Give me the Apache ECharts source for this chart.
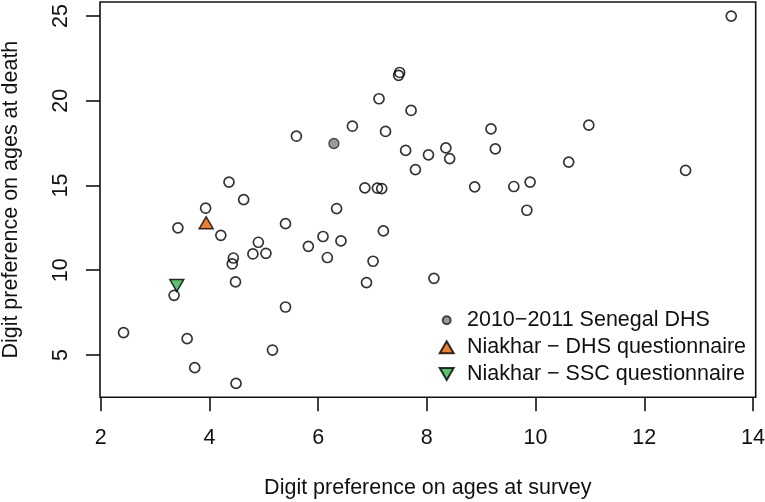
<!DOCTYPE html>
<html>
<head>
<meta charset="utf-8">
<script src="https://cdn.jsdelivr.net/npm/echarts@6/dist/echarts.min.js"></script>
<style>
html,body{margin:0;padding:0;background:#fff;}
#chart{width:765px;height:502px;}
</style>
</head>
<body>
<div id="chart"></div>
<script>
// Other countries (open circles)
const otherX = [5.60, 4.36, 4.63, 3.93, 3.42, 5.40, 4.21, 4.90, 5.82, 4.44, 4.42, 4.80, 5.04, 4.48, 3.35, 5.40, 2.42, 3.59, 5.16, 3.73, 4.49,
                7.50, 7.48, 7.12, 7.71, 6.63, 7.24, 7.61, 8.03, 8.35, 8.42, 7.79, 9.18, 9.26, 8.88, 6.86, 7.09, 7.17, 6.34, 7.20,
                6.09, 6.42, 6.17, 7.01, 6.89, 8.13, 10.98, 10.61, 12.76, 9.90, 9.60, 9.84, 13.60];
const otherY = [17.91, 15.20, 14.17, 13.66, 12.50, 12.75, 12.06, 11.65, 11.41, 10.72, 10.37, 10.96, 11.00, 9.31, 8.52, 7.83, 6.32, 5.96, 5.29, 4.25, 3.32,
                21.67, 21.50, 20.12, 19.43, 18.50, 18.19, 17.07, 16.81, 17.22, 16.59, 15.94, 18.34, 17.16, 14.92, 14.86, 14.84, 14.82, 13.64, 12.32,
                11.99, 11.73, 10.75, 10.53, 9.27, 9.52, 18.56, 16.38, 15.89, 15.20, 14.94, 13.54, 25.00];

// Highlighted points
const senegalX = [6.29];
const senegalY = [17.48];
const niakharDhsX = [3.94];
const niakharDhsY = [12.80];
const niakharSscX = [3.40];
const niakharSscY = [9.10];

const seriesNames = ['2010\u22122011 Senegal DHS', 'Niakhar \u2212 DHS questionnaire', 'Niakhar \u2212 SSC questionnaire'];
const xTicks = [2, 4, 6, 8, 10, 12, 14];
const yTicks = [5, 10, 15, 20, 25];
const xTitle = 'Digit preference on ages at survey';
const yTitle = 'Digit preference on ages at death';

function pairs(xs, ys) { return xs.map((x, i) => [x, ys[i]]); }

const FONT = "'Liberation Sans', Arial, Helvetica, sans-serif";
const FS = 21.5;
const TRI_UP = 'path://M7,0 L14,12 L0,12 Z';
const TRI_DOWN = 'path://M0,0 L14,0 L7,12 Z';
const chart = echarts.init(document.getElementById('chart'), null, {renderer: 'canvas'});

function mkLegend(name, icon, left, top, w, h, padLeft) {
  return {
    data: [{name: name, icon: icon}], left: left, top: top, orient: 'vertical', padding: 0,
    itemWidth: w, itemHeight: h, selectedMode: false,
    textStyle: {fontFamily: FONT, fontSize: FS, color: '#111', padding: [0, 0, 0, padLeft]}
  };
}

chart.setOption({
  animation: false,
  backgroundColor: '#fff',
  grid: {left: 100, right: 9.3, top: 2, bottom: 104.7, show: true, borderColor: '#111', borderWidth: 1.6,
         containLabel: false, outerBoundsMode: 'none'},
  xAxis: {
    type: 'value', min: 1.987, max: 14.05,
    name: xTitle, nameLocation: 'middle', nameGap: 80,
    nameTextStyle: {fontFamily: FONT, fontSize: FS, color: '#111'},
    axisLine: {show: false},
    axisTick: {show: true, length: 14, customValues: xTicks, lineStyle: {color: '#111', width: 1.6}},
    axisLabel: {customValues: xTicks, margin: 30, fontFamily: FONT, fontSize: FS, color: '#111'},
    splitLine: {show: false}
  },
  yAxis: {
    type: 'value', min: 2.5, max: 25.83,
    name: yTitle, nameLocation: 'middle', nameGap: 78, nameRotate: 90,
    nameTextStyle: {fontFamily: FONT, fontSize: FS, color: '#111'},
    axisLine: {show: false},
    axisTick: {show: true, length: 14, customValues: yTicks, lineStyle: {color: '#111', width: 1.6}},
    axisLabel: {customValues: yTicks, rotate: 90, margin: 28, fontFamily: FONT, fontSize: FS, color: '#111'},
    splitLine: {show: false}
  },
  legend: [
    mkLegend(seriesNames[0], 'circle', 441.7, 309.3, 8, 8, 11.3),
    mkLegend(seriesNames[1], TRI_UP, 438.7, 336.3, 14, 12, 8.3),
    mkLegend(seriesNames[2], TRI_DOWN, 438.7, 363, 14, 12, 8.3)
  ],
  series: [
    {
      name: 'Other', type: 'scatter', symbol: 'circle', symbolSize: 10,
      itemStyle: {color: 'rgba(0,0,0,0)', borderColor: '#000', borderWidth: 1.7},
      data: pairs(otherX, otherY), silent: true
    },
    {
      name: seriesNames[0], type: 'scatter', symbol: 'circle', symbolSize: 10,
      itemStyle: {color: '#7f7f7f', borderColor: '#222', borderWidth: 1.3},
      data: pairs(senegalX, senegalY), silent: true
    },
    {
      name: seriesNames[1], type: 'scatter', symbol: TRI_UP, symbolSize: [14, 12],
      itemStyle: {color: '#E4620A', borderColor: '#000', borderWidth: 1.5},
      data: pairs(niakharDhsX, niakharDhsY), silent: true
    },
    {
      name: seriesNames[2], type: 'scatter', symbol: TRI_DOWN, symbolSize: [14, 12],
      itemStyle: {color: '#35B24A', borderColor: '#000', borderWidth: 1.5},
      data: pairs(niakharSscX, niakharSscY), silent: true
    }
  ]
});
</script>
</body>
</html>
